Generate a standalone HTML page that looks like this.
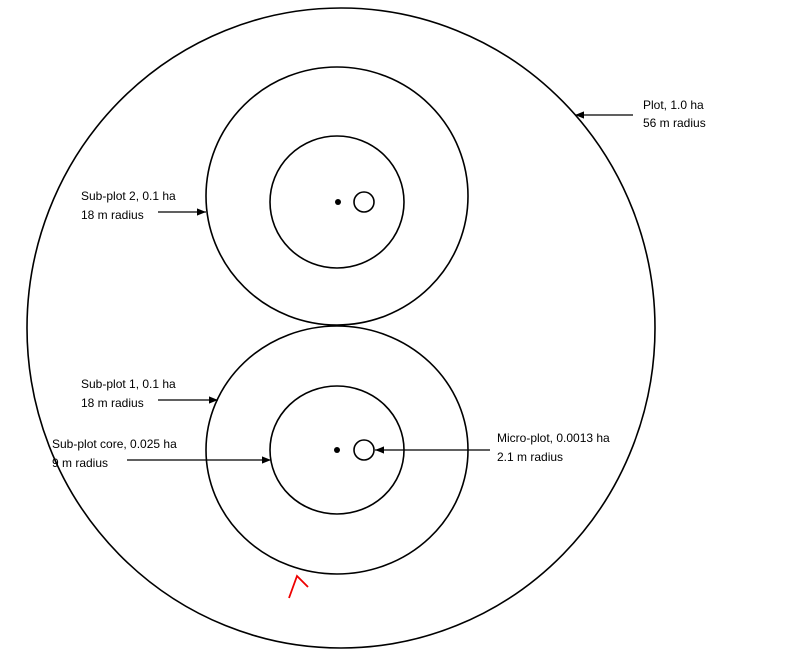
<!DOCTYPE html>
<html><head><meta charset="utf-8"><style>
html,body{margin:0;padding:0;background:#fff;}
svg{display:block;}
text{font-family:"Liberation Sans",sans-serif;font-size:12px;fill:#000;}
</style></head><body>
<svg width="811" height="653" viewBox="0 0 811 653">
<defs><marker id="ah" viewBox="0 0 10 10" refX="10" refY="5" markerWidth="7" markerHeight="7" orient="auto"><path d="M0,1 L10,5 L0,9 z" fill="#000"/></marker></defs>
<g fill="none" stroke="#000" stroke-width="1.6">
<ellipse cx="341" cy="328" rx="314" ry="320"/>
<ellipse cx="337" cy="196" rx="131" ry="129"/>
<ellipse cx="337" cy="202" rx="67" ry="66"/>
<circle cx="364" cy="202" r="10"/>
<ellipse cx="337" cy="450" rx="131" ry="124"/>
<ellipse cx="337" cy="450" rx="67" ry="64"/>
<circle cx="364" cy="450" r="10"/>
</g>
<circle cx="338" cy="202" r="3"/>
<circle cx="337" cy="450" r="3"/>
<g stroke="#000" stroke-width="1.3" marker-end="url(#ah)">
<line x1="633" y1="115" x2="575" y2="115"/>
<line x1="158" y1="212" x2="206" y2="212"/>
<line x1="158" y1="400" x2="218" y2="400"/>
<line x1="127" y1="460" x2="271" y2="460"/>
<line x1="490" y1="450" x2="375" y2="450"/>
</g>
<text x="643" y="109">Plot, 1.0 ha</text>
<text x="643" y="127">56 m radius</text>
<text x="81" y="200">Sub-plot 2, 0.1 ha</text>
<text x="81" y="219">18 m radius</text>
<text x="81" y="388">Sub-plot 1, 0.1 ha</text>
<text x="81" y="407">18 m radius</text>
<text x="52" y="448">Sub-plot core, 0.025 ha</text>
<text x="52" y="467">9 m radius</text>
<text x="497" y="442">Micro-plot, 0.0013 ha</text>
<text x="497" y="461">2.1 m radius</text>
<path d="M289,598 L297,576 L308,587" fill="none" stroke="#e00" stroke-width="1.8"/>
</svg>
</body></html>
